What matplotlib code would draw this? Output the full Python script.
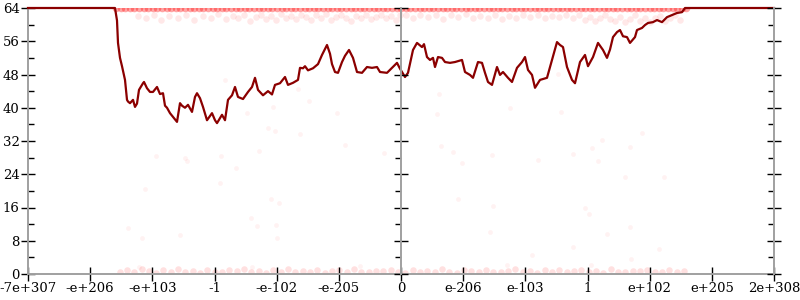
import matplotlib
matplotlib.use("Agg")
import matplotlib.pyplot as plt
import numpy as np

plt.rcParams['font.family'] = ['DejaVu Serif']

# ---- data (x in sample-position units along the ordered axis, 0..746) ----
tick_labels = ["-7e+307", "-e+206", "-e+103", "-1", "-e-102", "-e-205", "0",
               "e-206", "e-103", "1", "e+102", "e+205", "2e+308"]
x_span = 746

line_x = [0, 87, 89, 90, 92, 94, 97, 99, 100, 102, 105, 107, 109, 111, 115, 116, 119,
          122, 125, 129, 132, 135, 137, 139, 142, 145, 149, 152, 154, 157, 160, 164,
          167, 169, 172, 175, 179, 182, 184, 187, 189, 192, 194, 197, 200, 204, 207,
          210, 215, 220, 224, 227, 230, 235, 240, 244, 247, 252, 257, 260, 265, 270,
          272, 275, 277, 280, 285, 290, 294, 299, 302, 304, 307, 310, 314, 317, 321,
          325, 329, 334, 339, 344, 349, 352, 359, 364, 369, 372, 377, 380, 385, 389,
          394, 396, 399, 402, 405, 407, 410, 414, 417, 422, 427, 434, 437, 442, 445,
          450, 454, 457, 460, 464, 469, 472, 475, 480, 484, 489, 494, 497, 500, 504,
          507, 512, 519, 524, 529, 532, 535, 539, 544, 547, 552, 557, 560, 565, 570,
          575, 579, 582, 585, 589, 592, 595, 599, 602, 607, 609, 614, 617, 620, 625,
          629, 634, 639, 644, 649, 654, 657, 746]
line_y = [64, 64, 61, 55.6, 52, 50, 46.7, 41.9, 41.5, 41.1, 41.9, 40.2, 41, 44.3, 45.9,
          46.2, 44.7, 43.8, 43.8, 45, 43.3, 43.5, 40.5, 40, 38.7, 37.8, 36.6, 41.1,
          40.5, 40, 40.7, 39, 42.6, 43.5, 42.3, 40.2, 37, 38, 38.7, 37, 36.3, 37.5,
          38.3, 37, 41.9, 43, 45, 42.6, 42.1, 43.8, 45, 47.2, 44.3, 43, 44, 43.2, 45.5,
          45.9, 47.4, 45.5, 46, 46.7, 49.6, 49.5, 50, 49, 49.5, 50.5, 52.7, 55.1, 53,
          50.5, 48.6, 48.4, 51, 52.5, 53.9, 52, 48.6, 48.4, 49.8, 49.6, 49.8, 48.6,
          48.4, 49.6, 50.8, 49.4, 47.4, 48.4, 53.9, 55.6, 54.6, 55.3, 52.2, 51.5, 52,
          49.8, 52.2, 52, 51, 50.8, 51, 51.5, 48.6, 47.9, 47.2, 51, 50.8, 48.4, 46.2,
          45.5, 49.8, 47.9, 48.6, 47.2, 46.2, 49.6, 51, 52.2, 49.1, 47.9, 44.8, 46.7,
          47.2, 51.5, 55.8, 55.1, 54.6, 49.8, 46.7, 45.9, 51, 52.7, 50, 52.2, 55.6,
          53.9, 52, 54, 57, 58.2, 58.7, 57.2, 57, 55.6, 57, 58.7, 59.2, 59.9, 60.4,
          60.6, 61.1, 60.6, 61.8, 62.3, 62.8, 63, 64, 64]

# sampled points: dense band at the 64-bit ceiling
top_x = [88, 93, 97, 102, 106, 111, 116, 120, 125, 129, 134, 139, 143, 148, 152, 157,
         162, 166, 171, 175, 180, 185, 189, 194, 198, 203, 208, 212, 217, 221, 226, 231,
         235, 240, 244, 249, 254, 258, 263, 267, 272, 277, 281, 286, 290, 295, 300, 304,
         309, 313, 318, 323, 327, 332, 336, 341, 346, 350, 355, 359, 364, 369, 373, 378,
         382, 387, 392, 396, 401, 405, 410, 415, 419, 424, 428, 433, 438, 442, 447, 451,
         456, 461, 465, 470, 474, 479, 484, 488, 493, 497, 502, 507, 511, 516, 520, 525,
         530, 534, 539, 543, 548, 553, 557, 562, 566, 571, 576, 580, 585, 589, 594, 599,
         603, 608, 612, 617, 622, 626, 631, 635, 640, 645, 649, 654, 658]
top_y = [64] * len(top_x)

# sampled points: band just below the ceiling
band_x = [110, 118, 126, 133, 141, 150, 158, 166, 175, 183, 190, 198, 205, 210, 216, 222,
          228, 233, 238, 243, 248, 253, 258, 263, 268, 273, 278, 283, 288, 293, 298, 303,
          308, 313, 318, 323, 328, 333, 338, 343, 348, 353, 358, 363, 368, 372,
          378, 385, 392, 400, 408, 415, 423, 430, 438, 445, 452, 460, 467, 474, 481, 488,
          495, 502, 510, 517, 524, 531, 538, 545, 551, 557, 562, 567, 572, 577, 582, 587,
          592, 597, 602, 607, 612, 617, 622, 627, 632, 637, 642, 647, 652]
band_y = [62.0, 61.5, 62.3, 61.2, 62.0, 61.6, 62.4, 61.0, 62.1, 61.7, 62.5, 61.3, 62.0,
          61.6, 62.3, 60.9, 61.8, 62.4, 61.4, 62.0, 61.1, 62.5, 61.7, 62.1, 61.3, 62.4,
          61.8, 61.0, 62.2, 61.6, 62.5, 61.2, 61.9, 62.4, 61.5, 60.9, 62.1, 61.7, 62.4,
          61.3, 61.9, 62.3, 61.5, 62.0, 61.2, 62.4,
          62.3, 61.6, 62.4, 61.8, 62.2, 61.4, 62.3, 61.9, 62.5, 61.5, 62.1, 61.7, 62.4,
          61.3, 62.0, 61.6, 62.3, 61.8, 62.4, 61.5, 62.1, 61.8, 62.4, 61.6, 62.2, 61.1,
          61.9, 60.8, 61.6, 62.3, 61.3, 60.9, 61.8, 60.6, 61.4, 62.2, 60.9, 61.6, 60.7,
          61.5, 62.0, 60.8, 61.6, 62.2, 61.2]

# sampled points: band at the floor
bot_x = [92, 99, 106, 114, 121, 128, 135, 143, 150, 157, 165, 172, 179, 187, 194, 201,
         209, 216, 223, 231, 238, 245, 253, 260, 267, 275, 282, 289, 297, 304, 311, 319,
         326, 333, 341, 348, 355, 363, 370, 377, 385, 392, 399, 407, 414, 421, 429, 436,
         443, 451, 458, 465, 473, 480, 487, 495, 502, 509, 517, 524, 531, 539, 546, 553,
         561, 568, 575, 583, 590, 597, 605, 612, 619, 627, 634, 641, 649, 656]
bot_y = [0.6, 0.9, 0.4, 1.1, 0.7, 0.3, 0.9, 0.6, 1.2, 0.5, 0.8, 0.3, 1.0, 0.6, 0.4, 0.9,
         0.7, 1.1, 0.5, 0.8, 0.3, 0.9, 0.6, 1.2, 0.4, 0.8, 0.6, 1.0, 0.3, 0.7, 0.9, 0.5,
         1.1, 0.6, 0.4, 0.8, 0.7, 1.0, 0.5, 0.3, 0.9, 0.6, 0.8, 0.4, 1.1, 0.6, 0.3, 0.9,
         0.7, 0.5, 1.0, 0.6, 0.4, 0.8, 1.2, 0.5, 0.7, 0.3, 0.9, 0.6, 1.0, 0.4, 0.7, 0.9,
         0.5, 0.8, 0.3, 1.1, 0.6, 0.4, 0.8, 0.7, 1.0, 0.5, 0.6, 0.9, 0.4, 0.7]

# sparse sampled points in the middle
mid_x = [240, 247, 272, 317, 356, 128, 157, 159, 193, 231, 208, 192, 117, 243, 251, 223,
         229, 248, 100, 114, 152, 249, 111, 224, 332, 219, 245, 281, 309, 270, 197,
         411, 409, 482, 533, 614, 574, 413, 425, 564, 602, 434, 464, 510, 545, 570, 597,
         636, 430, 465, 557, 561, 602, 462, 579, 545, 631, 504, 603, 479, 563, 530]
mid_y = [35.1, 34.4, 33.7, 31.0, 29.1, 28.4, 27.9, 27.2, 28.4, 29.6, 25.5, 21.9, 20.5,
         18.0, 17.1, 13.5, 11.5, 11.8, 11.1, 8.7, 9.4, 8.7, 1.7, 1.7, 1.9, 38.7, 40.2,
         41.6, 38.7, 44.5, 46.7,
         43.3, 38.5, 39.9, 39.0, 33.9, 32.2, 30.8, 29.4, 30.3, 30.6, 26.7, 28.6, 27.4,
         28.9, 27.2, 23.3, 23.3, 18.0, 16.4, 15.9, 14.4, 11.3, 10.1, 9.6, 6.5, 6.0, 4.6,
         3.6, 2.2, 2.2, 48.1]

yticks_major = [0, 8, 16, 24, 32, 40, 48, 56, 64]
yticks_minor = [4, 12, 20, 28, 36, 44, 52, 60]

# ---- figure ----
fig = plt.figure(figsize=(8, 3), dpi=100)
ax = fig.add_axes([28 / 800, 1 - 274 / 300, 746 / 800, 266 / 300])

pt_red = '#ff0000'
ax.scatter(top_x, top_y, s=30, color=pt_red, alpha=0.35, linewidths=0, zorder=1)
ax.scatter(band_x, band_y, s=22, color=pt_red, alpha=0.09, linewidths=0, zorder=1)
ax.scatter(bot_x, bot_y, s=22, color=pt_red, alpha=0.12, linewidths=0, zorder=1)
ax.scatter(mid_x, mid_y, s=12, color=pt_red, alpha=0.05, linewidths=0, zorder=1)

ax.plot(line_x, line_y, color='#8b0000', lw=1.6, clip_on=False, zorder=3,
        solid_joinstyle='round')

ax.set_xlim(0, x_span)
ax.set_ylim(0, 64)

spine_col = '#a0a0a0'
for s in ['top', 'right']:
    ax.spines[s].set_visible(False)
for s in ['left', 'bottom']:
    ax.spines[s].set_color(spine_col)
    ax.spines[s].set_linewidth(1.4)

ax.set_xticks(np.linspace(0, x_span, len(tick_labels)))
ax.set_xticklabels(tick_labels)
ax.set_yticks(yticks_major)
ax.set_yticks(yticks_minor, minor=True)
ax.tick_params(axis='both', which='major', direction='inout', length=10, width=1,
               color='black', labelsize=9.5, pad=1)
ax.tick_params(axis='y', which='minor', direction='in', length=4, width=1, color='black')

# right and center vertical axes
for pos in [1.0, 0.5]:
    a = ax.twinx()
    a.set_ylim(0, 64)
    for s in ['top', 'left', 'bottom']:
        a.spines[s].set_visible(False)
    a.spines['right'].set_position(('axes', pos))
    a.spines['right'].set_color(spine_col)
    a.spines['right'].set_linewidth(1.4)
    a.set_yticks(yticks_major)
    a.set_yticks(yticks_minor, minor=True)
    a.tick_params(axis='y', which='major', direction='inout', length=10, width=1,
                  color='black', labelright=False)
    a.tick_params(axis='y', which='minor', direction='in', length=4, width=1,
                  color='black')

fig.savefig('out.png', dpi=100)
